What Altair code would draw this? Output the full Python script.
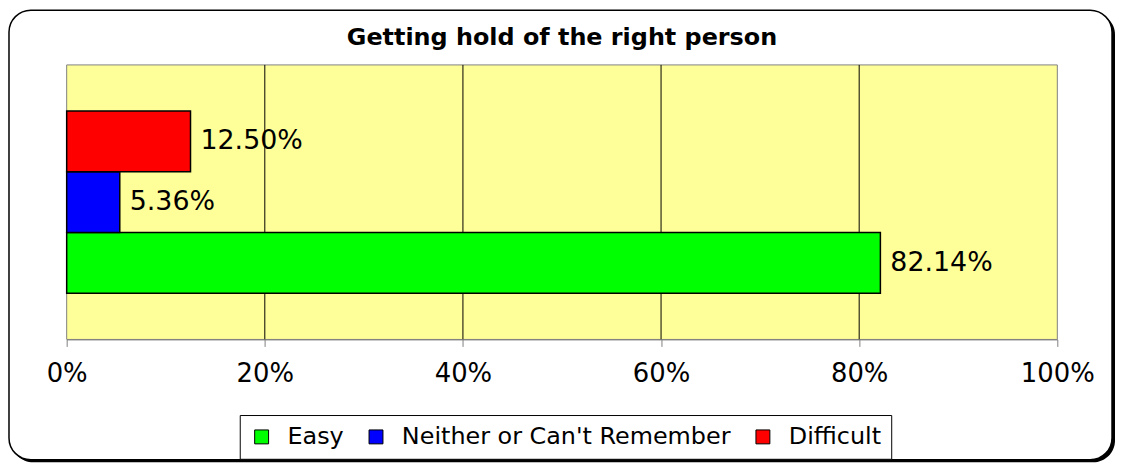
import altair as alt
import pandas as pd

# ---- data ----
categories = ["Easy", "Neither or Can't Remember", "Difficult"]
values = [0.8214, 0.0536, 0.1250]
colors = ["#00FF00", "#0000FF", "#FF0000"]
bar_order = ["Difficult", "Neither or Can't Remember", "Easy"]
tick_values = [0, 0.2, 0.4, 0.6, 0.8, 1.0]
grid_values = [0.2, 0.4, 0.6, 0.8]
title_text = "Getting hold of the right person"

W, H = 996, 276
FONT = "DejaVu Sans"

df = pd.DataFrame({"cat": categories, "value": values})
grid_df = pd.DataFrame({"value": grid_values})
one = pd.DataFrame({"k": [0]})

xscale = alt.Scale(domain=[0, 1], nice=False, zero=True)
xaxis = alt.Axis(values=tick_values, format="%", title=None, grid=False,
                 domainColor="#808080", tickColor="#808080", tickSize=7,
                 labelFontSize=26, labelFont=FONT, labelColor="black",
                 labelPadding=14, zindex=1, labelFlush=False)
x_enc = alt.X("value:Q", scale=xscale, axis=xaxis)
y_enc = alt.Y("cat:N", sort=bar_order,
              scale=alt.Scale(domain=bar_order, paddingInner=0, paddingOuter=0.76),
              axis=None)

shadow = alt.Chart(one).mark_rect(fill="black", cornerRadius=22).encode(
    x=alt.value(-55.5), x2=alt.value(1054), y=alt.value(-52.5), y2=alt.value(399.5))
frame = alt.Chart(one).mark_rect(fill="white", stroke="black", strokeWidth=1.5,
                                 cornerRadius=22).encode(
    x=alt.value(-58), x2=alt.value(1051), y=alt.value(-55), y2=alt.value(397))
plotbg = alt.Chart(one).mark_rect(fill="#FFFF99", stroke="#808080", strokeWidth=1).encode(
    x=alt.value(0), x2=alt.value(W), y=alt.value(0), y2=alt.value(H))
grid = alt.Chart(grid_df).mark_rule(color="black", strokeWidth=1).encode(x=x_enc)

bars = alt.Chart(df).mark_bar(stroke="black", strokeWidth=1.5).encode(
    x=x_enc, y=y_enc,
    color=alt.Color("cat:N", scale=alt.Scale(domain=categories, range=colors),
                    legend=alt.Legend(orient="none", legendX=174, legendY=352,
                                      direction="horizontal", title=None,
                                      fillColor="white", strokeColor="black",
                                      padding=10, symbolType="square", symbolSize=196,
                                      symbolStrokeColor="black", symbolStrokeWidth=1,
                                      labelFontSize=24, labelFont=FONT, labelColor="black",
                                      labelOffset=14, columnPadding=20, labelLimit=600)))

labels = alt.Chart(df).mark_text(align="left", baseline="middle", dx=10, fontSize=27,
                                 font=FONT, color="black").encode(
    x=x_enc, y=y_enc, text=alt.Text("value:Q", format=".2%"))

chart = alt.layer(shadow, frame, plotbg, grid, bars, labels).properties(
    width=W, height=H, padding=0, background="white",
    autosize=alt.AutoSizeParams(type="pad"),
    title=alt.TitleParams(title_text, font=FONT, fontSize=24, fontWeight="bold",
                          color="black", anchor="middle", frame="group",
                          offset=-60, baseline="alphabetic"),
).configure_view(strokeOpacity=0)

chart.save("out.html", embed_options={"renderer": "svg", "actions": False})
